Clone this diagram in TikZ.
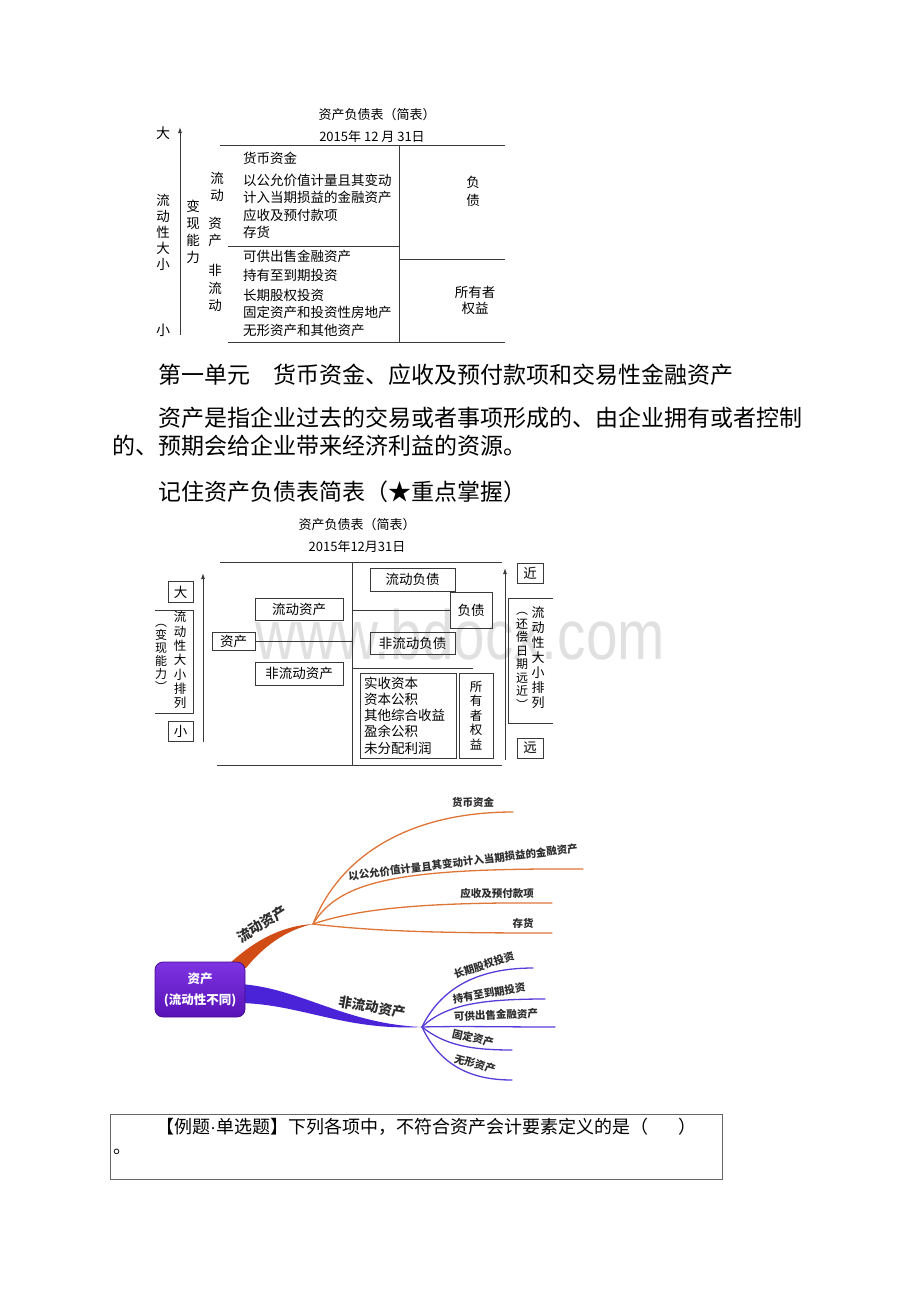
\documentclass[tikz,border=0pt]{standalone}
\usepackage{fontspec}
\setmainfont{Noto Sans CJK SC}
\newfontfamily\wmfont{Liberation Sans}
\usetikzlibrary{positioning,arrows.meta,calc}
\definecolor{tabline}{HTML}{3A3A3A}
\definecolor{mmorange}{HTML}{D24C16}
\definecolor{mmpeach}{HTML}{DE7436}
\definecolor{mmvioletT}{HTML}{7E34E2}
\definecolor{mmvioletB}{HTML}{5812B6}
\definecolor{mmblue}{HTML}{4A22D8}
\definecolor{mmthin}{HTML}{5A3CD8}
\definecolor{mmtext}{HTML}{2E2E2E}
\newcommand{\fs}[2]{\fontsize{#1}{#2}\selectfont}

\begin{document}
\begin{tikzpicture}[x=1pt,y=-1pt,
    tline/.style={tabline, line width=0.9pt},
    item/.style={anchor=west, inner sep=0pt, font=\fs{13.5}{16}},
    vcol/.style n args={2}{align=center, inner sep=0pt, font=\fs{#1}{#2}},
    cell/.style={draw=tabline, line width=0.9pt, inner sep=0pt, font=\fs{13.5}{15}},
    body/.style={anchor=west, inner sep=0pt, font=\fs{23}{28}},
    mmlab/.style={inner sep=0pt, text=mmtext, font=\bfseries\fs{10.5}{12}},
    twig/.style={line width=1.3pt, line cap=round}]
  \useasboundingbox (0,0) rectangle (920,1302);

  % first table
  \node[font=\fs{13}{15}] (t1title) at (377,115) {资产负债表（简表）};
  \node[font=\fs{13}{15}] (t1date) at (372,137) {2015年 12 月 31日};
  \node[font=\fs{14}{16}] (t1big) at (163,133) {大};
  \node[font=\fs{14}{16}] (t1small) at (163,330) {小};
  \draw[tline,-{Latex[length=6pt,width=4pt]}] (180,335) -- (180,127);
  \node[vcol={13.5}{16}] (t1liq) at (163,232) {流\\动\\性\\大\\小};
  \node[vcol={13.5}{17}] (t1cash) at (193,232) {变\\现\\能\\力};
  \node[vcol={13.5}{17}] (t1cur) at (217,187) {流\\动};
  \node[vcol={13.5}{17}] (t1ca) at (215,232) {资\\产};
  \node[vcol={13.5}{17.5}] (t1nc) at (215,288) {非\\流\\动};
  \draw[tline] (220,145) -- (505,145);
  \draw[tline] (399,145) -- (399,342);
  \draw[tline] (228,246) -- (399,246);
  \draw[tline] (399,259) -- (505,259);
  \draw[tline] (228,342) -- (505,342);
  \node[item] (i1) at (243,158) {货币资金};
  \node[item] (i2) at (243,180) {以公允价值计量且其变动};
  \node[item] (i3) at (243,197) {计入当期损益的金融资产};
  \node[item] (i4) at (243,215) {应收及预付款项};
  \node[item] (i5) at (243,232) {存货};
  \node[item] (i6) at (243,256) {可供出售金融资产};
  \node[item] (i7) at (243,275) {持有至到期投资};
  \node[item] (i8) at (243,295) {长期股权投资};
  \node[item] (i9) at (243,312) {固定资产和投资性房地产};
  \node[item] (i10) at (243,330) {无形资产和其他资产};
  \node[vcol={13.5}{18}] (t1liab) at (473,191) {负\\债};
  \node[align=center, inner sep=0pt, font=\fs{13.5}{16}] (t1eq) at (475,300) {所有者\\权益};

  % text lines
  \node[body] (unit) at (158,375) {第一单元　货币资金、应收及预付款项和交易性金融资产};
  \node[body] (def1) at (158,418) {资产是指企业过去的交易或者事项形成的、由企业拥有或者控制};
  \node[body] (def2) at (112,446) {的、预期会给企业带来经济利益的资源。};
  \node[body] (memo) at (158,492) {记住资产负债表简表（★重点掌握）};

  % second table
  \node[text=black!12, font=\wmfont\fs{70}{70}, xscale=0.81] (wm) at (460,634) {www.bdocx.com};
  \node[font=\fs{13}{15}] (t2title) at (357,525) {资产负债表（简表）};
  \node[font=\fs{13}{15}] (t2date) at (357,547) {2015年12月31日};
  \coordinate (midtop) at (352,562);
  \coordinate (midbot) at (352,765);
  \draw[tline] (220,562) -- (502,562);
  \draw[tline] (217,765) -- (502,765);
  \draw[tline] (midtop) -- (midbot);
  \draw[tline,-{Latex[length=6pt,width=4pt]}] (203,742) -- (203,573);
  \node[cell, minimum width=25, minimum height=21] (big) at (180.5,592) {大};
  \node[cell, minimum width=25, minimum height=20] (small) at (180.5,731) {小};
  \draw[tline] (155,610) -- (193,610) -- (193,713) -- (155,713);
  \node[vcol={12.5}{14.3}] (lrank) at (180,660) {流\\动\\性\\大\\小\\排\\列};
  \node[vcol={12}{13}] (lcash) at (161,658) {︵\\变\\现\\能\\力\\︶};
  \draw[tline,-{Latex[length=6pt,width=4pt]}] (505,760) -- (505,568);
  \node[cell, minimum width=26, minimum height=20] (near) at (530,573) {近};
  \node[cell, minimum width=26, minimum height=20] (far) at (530,748) {远};
  \draw[tline] (553,598) -- (508,598) -- (508,723) -- (553,723);
  \node[vcol={13}{15}] (rrank) at (538,658) {流\\动\\性\\大\\小\\排\\列};
  \node[vcol={12}{13.5}] (rdate) at (522,661) {︵\\还\\偿\\日\\期\\远\\近\\︶};
  \node[cell, minimum width=43, minimum height=18] (asset) at (233.5,641) {资产};
  \node[cell, minimum width=88, minimum height=22] (curasset) at (299,609) {流动资产};
  \node[cell, minimum width=88, minimum height=23] (ncasset) at (299,673.5) {非流动资产};
  \draw[tline] (asset.east) -- (asset.east -| midtop);
  \node[cell, minimum width=85, minimum height=23] (curliab) at (412.5,579.5) {流动负债};
  \node[cell, minimum width=42, minimum height=36] (liab) at (471,610) {负债};
  \node[cell, minimum width=85, minimum height=22] (ncliab) at (412.5,643) {非流动负债};
  \draw[tline] (liab.west -| midtop) -- (liab.west);
  \draw[tline] (352,668) -- (473,668);
  \node[cell, minimum width=96, minimum height=85, text width=88, align=left,
        font=\fs{13.5}{16.2}] (eqitems) at (408,715.5)
        {实收资本\\资本公积\\其他综合收益\\盈余公积\\未分配利润};
  \node[cell, minimum width=34, minimum height=85, align=center,
        font=\fs{12.5}{14.5}] (owners) at (476,715.5) {所\\有\\者\\权\\益};

  % mind map
  \coordinate (j1) at (313,924);
  \coordinate (j2) at (422,1027);
  \fill[mmorange] (229,964) .. controls (255,940) and (282,926) .. (j1)
    .. controls (285,930) and (262,948) .. (246,968) -- cycle;
  \fill[mmblue] (240,984) .. controls (300,988) and (345,1024) .. (j2)
    .. controls (345,1031) and (300,1004) .. (240,1003) -- cycle;
  \node[rounded corners=8pt, minimum width=90, minimum height=55,
        top color=mmvioletT, bottom color=mmvioletB, draw=mmvioletB!80!black,
        line width=0.8pt, text=white, align=center,
        font=\bfseries\fs{12.5}{21}] (root) at (200,989.5) {资产\\(流动性不同)};
  \node[mmlab, font=\bfseries\fs{14}{16}, rotate=32] (curlab) at (262,924) {流动资产};
  \node[mmlab, font=\bfseries\fs{13.5}{16}, rotate=-10] (nclab) at (372,1007) {非流动资产};

  \coordinate (e1) at (513,812);
  \coordinate (e2) at (583,869);
  \coordinate (e3) at (552,903);
  \coordinate (e4) at (552,933);
  \draw[twig, mmpeach] (j1) .. controls (340,855) and (410,812) .. (e1);
  \draw[twig, mmpeach] (j1) .. controls (340,880) and (400,868) .. (e2);
  \draw[twig, mmpeach] (j1) .. controls (360,908) and (430,902) .. (e3);
  \draw[twig, mmpeach] (j1) .. controls (380,932) and (450,933) .. (e4);
  \node[mmlab] (hbzj) at (473,802) {货币资金};
  \node[mmlab, rotate=7] (jyxzc) at (463,862) {以公允价值计量且其变动计入当期损益的金融资产};
  \node[mmlab] (yskx) at (497,893) {应收及预付款项};
  \node[mmlab] (ch) at (523,923) {存货};

  \coordinate (f1) at (533,968);
  \coordinate (f2) at (545,999);
  \coordinate (f3) at (555,1027);
  \coordinate (f4) at (512,1050);
  \coordinate (f5) at (512,1080);
  \draw[twig, mmthin] (j2) .. controls (440,990) and (475,968) .. (f1);
  \draw[twig, mmthin] (j2) .. controls (445,1005) and (480,999) .. (f2);
  \draw[twig, mmthin] (j2) .. controls (460,1026) and (500,1027) .. (f3);
  \draw[twig, mmthin] (j2) .. controls (445,1045) and (470,1050) .. (f4);
  \draw[twig, mmthin] (j2) .. controls (440,1065) and (470,1080) .. (f5);
  \node[mmlab, rotate=18] (cqgq) at (484,965) {长期股权投资};
  \node[mmlab, rotate=10] (cyzd) at (489,993) {持有至到期投资};
  \node[mmlab, rotate=2] (kgcs) at (496,1015) {可供出售金融资产};
  \node[mmlab, rotate=-13] (gdzc) at (473,1038) {固定资产};
  \node[mmlab, rotate=-16] (wxzc) at (475,1064) {无形资产};

  % example box
  \node[draw=black!60, line width=0.8pt, minimum width=612, minimum height=65,
        inner sep=0pt] (qbox) at (416,1146.5) {};
  \node[anchor=west, inner sep=0pt, font=\fs{18}{20}] (qtext) at (156,1127)
        {【例题{\wmfont ·}单选题】下列各项中，不符合资产会计要素定义的是（\hspace{30pt}）};
  \node[anchor=west, inner sep=0pt, font=\fs{18}{20}] (qend) at (113,1152) {。};
\end{tikzpicture}
\end{document}
